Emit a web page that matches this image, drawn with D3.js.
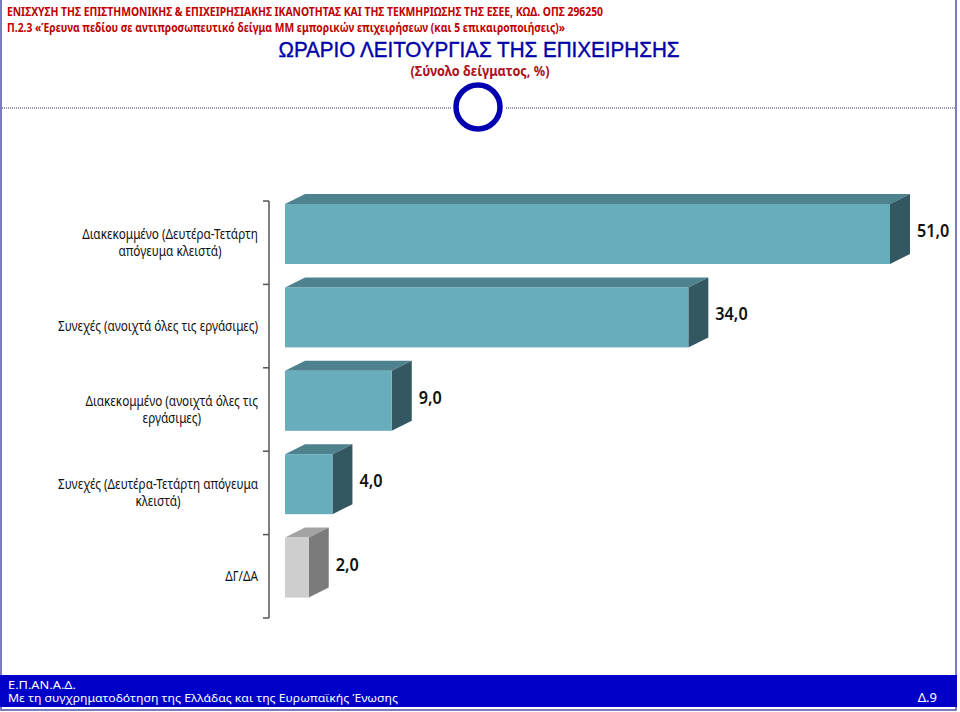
<!DOCTYPE html>
<html><head><meta charset="utf-8">
<script src="https://cdn.jsdelivr.net/npm/d3@7"></script>
<style>body{margin:0;background:#fff}svg{display:block}</style>
</head><body>
<svg id="c" width="960" height="712"></svg>
<script>
const categories = [
  ["Διακεκομμένο (Δευτέρα-Τετάρτη", "απόγευμα κλειστά)"],
  ["Συνεχές (ανοιχτά όλες τις εργάσιμες)"],
  ["Διακεκομμένο (ανοιχτά όλες τις", "εργάσιμες)"],
  ["Συνεχές (Δευτέρα-Τετάρτη απόγευμα", "κλειστά)"],
  ["ΔΓ/ΔΑ"]
];
const values = [51.0, 34.0, 9.0, 4.0, 2.0];
const valueLabels = ["51,0", "34,0", "9,0", "4,0", "2,0"];
const headerLines = [
  "ΕΝΙΣΧΥΣΗ ΤΗΣ ΕΠΙΣΤΗΜΟΝΙΚΗΣ & ΕΠΙΧΕΙΡΗΣΙΑΚΗΣ ΙΚΑΝΟΤΗΤΑΣ ΚΑΙ ΤΗΣ ΤΕΚΜΗΡΙΩΣΗΣ ΤΗΣ ΕΣΕΕ, ΚΩΔ. ΟΠΣ 296250",
  "Π.2.3 «Έρευνα πεδίου σε αντιπροσωπευτικό δείγμα ΜΜ εμπορικών επιχειρήσεων (και 5 επικαιροποιήσεις)»"
];
const title = "ΩΡΑΡΙΟ ΛΕΙΤΟΥΡΓΙΑΣ ΤΗΣ ΕΠΙΧΕΙΡΗΣΗΣ";
const subtitle = "(Σύνολο δείγματος, %)";
const footerLines = ["Ε.Π.ΑΝ.Α.Δ.", "Με τη συγχρηματοδότηση της Ελλάδας και της Ευρωπαϊκής Ένωσης"];
const pageLabel = "Δ.9";

const svg = d3.select("#c");
const F = "'Noto Sans', 'Open Sans', sans-serif";

// frame
svg.append("rect").attr("x",1).attr("y",-2).attr("width",955).attr("height",712)
  .attr("fill","none").attr("stroke","#5050b0").attr("stroke-width",1.5);

// header
const hw = [596, 558];
headerLines.forEach((t,i)=>{
  svg.append("text").attr("x",7).attr("y",15.5+i*16).text(t)
    .attr("font-family",F).attr("font-weight","bold").attr("font-size",11.5)
    .attr("fill","#c00000").attr("textLength",hw[i]).attr("lengthAdjust","spacingAndGlyphs");
});
svg.append("text").attr("x",479).attr("y",57).attr("text-anchor","middle").text(title)
  .attr("font-family","'Liberation Sans', Arial, sans-serif").attr("font-size",22)
  .attr("stroke","#0000a8").attr("stroke-width",0.4)
  .attr("fill","#0000a8").attr("textLength",401).attr("lengthAdjust","spacingAndGlyphs");
svg.append("text").attr("x",480).attr("y",76).attr("text-anchor","middle").text(subtitle)
  .attr("font-family",F).attr("font-weight","bold").attr("font-size",14)
  .attr("fill","#b01020").attr("textLength",139).attr("lengthAdjust","spacingAndGlyphs");

// dotted divider + circle
[[2,452],[506,955]].forEach(([a,b])=>{
  svg.append("line").attr("x1",a).attr("x2",b).attr("y1",108).attr("y2",108)
    .attr("stroke","#303060").attr("stroke-width",1).attr("stroke-dasharray","1,1");
});
svg.append("circle").attr("cx",478).attr("cy",107).attr("r",22)
  .attr("fill","none").attr("stroke","#0000b0").attr("stroke-width",5.5);

// scales
const idx = d3.range(categories.length);
const y = d3.scaleBand().domain(idx).range([201,618]).padding(0);
const x = d3.scaleLinear().domain([0,51]).range([285,890]);
const dx = 20, dy = 10, barH = 60, off = 3;

// axis
const axisX = 269;
svg.append("line").attr("x1",axisX).attr("x2",axisX).attr("y1",y.range()[0]).attr("y2",y.range()[1])
  .attr("stroke","#555").attr("stroke-width",1.5);
const tickYs = idx.map(i=>y(i)).concat([y.range()[1]]);
svg.selectAll(".tk").data(tickYs).join("line")
  .attr("x1",axisX-6).attr("x2",axisX).attr("y1",d=>d).attr("y2",d=>d)
  .attr("stroke","#555").attr("stroke-width",1.5);

// bars
const colors = i => values.length-1===i
  ? {front:"#cecece", top:"#a3a3a3", side:"#7b7b7b"}
  : {front:"#67adbb", top:"#4e828e", side:"#335861"};
const g = svg.append("g");
idx.forEach(i=>{
  const x0 = x(0), x1 = x(values[i]);
  const t = y(i)+off, b = t+barH;
  const c = colors(i);
  g.append("path").attr("d",`M${x0},${t}L${x0+dx},${t-dy}L${x1+dx},${t-dy}L${x1},${t}Z`).attr("fill",c.top);
  g.append("path").attr("d",`M${x1},${t}L${x1+dx},${t-dy}L${x1+dx},${b-dy}L${x1},${b}Z`).attr("fill",c.side);
  g.append("rect").attr("x",x0).attr("y",t).attr("width",x1-x0).attr("height",barH).attr("fill",c.front);
  const lbl = g.append("text").attr("x",x1+dx+7).attr("y",y(i)+y.bandwidth()/2-12).attr("dy","0.35em")
    .text(valueLabels[i]).attr("font-family",F).attr("font-size",18).attr("font-weight",600).attr("fill","#111");
  const w = lbl.node().getComputedTextLength();
  lbl.attr("textLength", w*0.9).attr("lengthAdjust","spacingAndGlyphs");
});

// category labels
const lfs = 13.5, sq = 0.87;
idx.forEach(i=>{
  const lines = categories[i];
  const cy = y(i)+y.bandwidth()/2;
  const lh = 17;
  const tmp = svg.append("text").attr("font-family",F).attr("font-size",lfs);
  const ws = lines.map(l=>{ tmp.text(l); return tmp.node().getComputedTextLength()*sq; });
  tmp.remove();
  const w = d3.max(ws);
  const cx = 258 - w/2;
  const t = svg.append("text").attr("font-family",F).attr("font-size",lfs).attr("fill","#111")
    .attr("text-anchor","middle");
  lines.forEach((l,k)=>{
    t.append("tspan").attr("x",cx).attr("y",cy + (k-(lines.length-1)/2)*lh).attr("dy","0.35em")
      .attr("textLength",ws[k]).attr("lengthAdjust","spacingAndGlyphs").text(l);
  });
});

// footer
svg.append("rect").attr("x",0).attr("y",675).attr("width",957).attr("height",32).attr("fill","#0000c8");
const fw = [68, 390];
footerLines.forEach((l,i)=>{
  svg.append("text").attr("x",8).attr("y",688.5+i*13.5).text(l)
    .attr("font-family",F).attr("font-size",11.5).attr("fill","#fff")
    .attr("textLength",fw[i]).attr("lengthAdjust","spacingAndGlyphs");
});
svg.append("text").attr("x",937).attr("y",702).attr("text-anchor","end").text(pageLabel)
  .attr("font-family",F).attr("font-size",13).attr("fill","#fff");
</script>
</body></html>
